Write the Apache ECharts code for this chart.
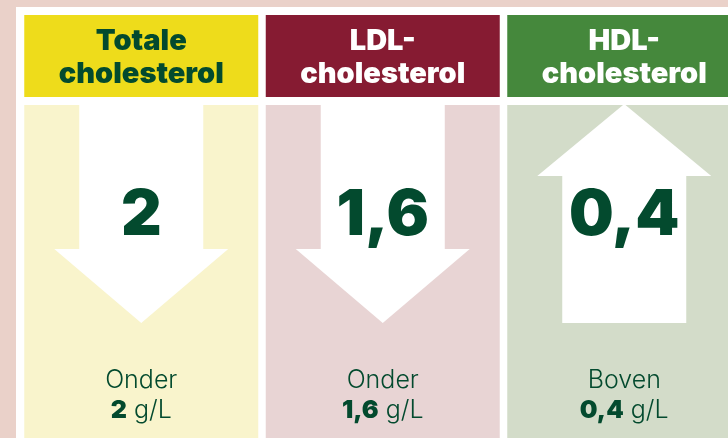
<!DOCTYPE html>
<html>
<head>
<meta charset="utf-8">
<script src="https://cdn.jsdelivr.net/npm/echarts@6/dist/echarts.min.js"></script>
<style>
  html, body { margin: 0; padding: 0; background: #ead1c9; }
  #chart { width: 728px; height: 438px; }
</style>
</head>
<body>
<div id="chart"></div>
<script>
// ---- data ----
const categories = ['Totale\ncholesterol', 'LDL-\ncholesterol', 'HDL-\ncholesterol'];
const values = [2, 1.6, 0.4];
const directions = ['down', 'down', 'up'];
const qualifiers = ['Onder', 'Onder', 'Boven'];
const unit = 'g/L';

// ---- styles ----
const headerColors = ['#eedc1b', '#861b32', '#45883c'];
const headerTextColors = ['#034a2e', '#ffffff', '#ffffff'];
const bodyColors = ['#f9f4cc', '#e8d4d4', '#d3dcc9'];
const ink = '#034a2e';
const font = 'Inter';

function fmt(v) { return String(v).replace('.', ','); }

const chart = echarts.init(document.getElementById('chart'), null, { renderer: 'canvas' });

const gridLeft = 20.5;
const pitch = 241.5; // px per category

function renderItem(params, api) {
  const i = api.value(0);
  const cx = api.coord([i, 0])[0];
  const band = api.size([1, 0])[0];
  const w = band - 7.5;
  const x0 = cx - w / 2;
  const bodyTop = 105;
  const hs = 62, hh = 87;
  let pts;
  if (directions[i] === 'down') {
    pts = [[cx - hs, bodyTop], [cx + hs, bodyTop], [cx + hs, 249], [cx + hh, 249], [cx, 323], [cx - hh, 249], [cx - hs, 249]];
  } else {
    pts = [[cx, 104], [cx + hh, 176], [cx + hs, 176], [cx + hs, 323], [cx - hs, 323], [cx - hs, 176], [cx - hh, 176]];
  }
  return {
    type: 'group',
    children: [
      { type: 'rect', shape: { x: x0, y: 15, width: w, height: 82 }, style: { fill: headerColors[i] } },
      { type: 'text', style: {
          x: cx, y: 58, text: categories[i], fill: headerTextColors[i],
          font: '900 29px ' + font, align: 'center', verticalAlign: 'middle', lineHeight: 33.5
        } },
      { type: 'rect', shape: { x: x0, y: bodyTop, width: w, height: 340 }, style: { fill: bodyColors[i] } },
      { type: 'polygon', shape: { points: pts }, style: { fill: '#ffffff' } },
      { type: 'text', style: {
          x: cx, y: 216, text: fmt(api.value(1)), fill: ink,
          font: '900 63px ' + font, align: 'center', verticalAlign: 'middle'
        } },
      { type: 'text', style: {
          x: cx, y: 380, text: qualifiers[i], fill: ink,
          font: '300 25px ' + font, align: 'center', verticalAlign: 'middle'
        } },
      { type: 'text', style: {
          x: cx, y: 410, text: '{b|' + fmt(api.value(1)) + '} ' + unit, fill: ink,
          font: '300 25px ' + font, align: 'center', verticalAlign: 'middle',
          rich: { b: { font: '900 25px ' + font, fill: ink } }
        } }
    ]
  };
}

chart.setOption({
  animation: false,
  backgroundColor: '#ead1c9',
  graphic: [
    { type: 'rect', z: -10, shape: { x: 16, y: 7, width: 720, height: 440 }, style: { fill: '#ffffff' } }
  ],
  grid: { left: gridLeft, right: 0, top: 0, bottom: 0 },
  xAxis: { type: 'value', show: false, min: -0.5, max: -0.5 + (728 - gridLeft) / pitch },
  yAxis: { type: 'value', show: false, min: 0, max: 3 },
  series: [{
    type: 'custom',
    clip: false,
    renderItem: renderItem,
    data: values.map((v, i) => [i, v])
  }]
});
</script>
</body>
</html>
